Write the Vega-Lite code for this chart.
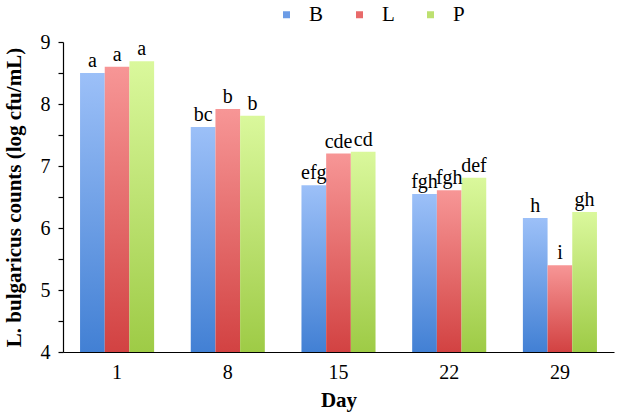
{
  "$schema": "https://vega.github.io/schema/vega-lite/v6.json",
  "width": 551,
  "height": 310,
  "autosize": "none",
  "padding": {"left": 63, "top": 42, "right": 3, "bottom": 62},
  "background": "white",
  "config": {
    "font": "Liberation Serif",
    "view": {"stroke": null},
    "axis": {"grid": false, "domainColor": "black", "tickColor": "black", "labelColor": "black", "titleColor": "black", "labelFont": "Liberation Serif", "titleFont": "Liberation Serif", "labelFontSize": 20, "titleFontSize": 21, "titleFontWeight": "bold", "domainWidth": 1.2, "tickWidth": 1.2}
  },
  "data": {
    "values": [
      {"day": 1, "group": "B", "value": 8.5, "label": "a"},
      {"day": 1, "group": "L", "value": 8.6, "label": "a"},
      {"day": 1, "group": "P", "value": 8.69, "label": "a"},
      {"day": 8, "group": "B", "value": 7.63, "label": "bc"},
      {"day": 8, "group": "L", "value": 7.92, "label": "b"},
      {"day": 8, "group": "P", "value": 7.81, "label": "b"},
      {"day": 15, "group": "B", "value": 6.69, "label": "efg"},
      {"day": 15, "group": "L", "value": 7.2, "label": "cde"},
      {"day": 15, "group": "P", "value": 7.23, "label": "cd"},
      {"day": 22, "group": "B", "value": 6.55, "label": "fgh"},
      {"day": 22, "group": "L", "value": 6.61, "label": "fgh"},
      {"day": 22, "group": "P", "value": 6.81, "label": "def"},
      {"day": 29, "group": "B", "value": 6.16, "label": "h"},
      {"day": 29, "group": "L", "value": 5.4, "label": "i"},
      {"day": 29, "group": "P", "value": 6.26, "label": "gh"}
    ]
  },
  "encoding": {
    "x": {
      "field": "day", "type": "ordinal", "sort": [1, 8, 15, 22, 29],
      "scale": {"paddingInner": 0.331, "paddingOuter": 0.154},
      "axis": {"title": "Day", "labelAngle": 0, "ticks": false, "labelPadding": 10, "titlePadding": 7}
    },
    "xOffset": {"field": "group", "type": "nominal", "scale": {"domain": ["B", "L", "P"], "paddingInner": 0, "paddingOuter": 0}},
    "y": {
      "field": "value", "type": "quantitative",
      "scale": {"domain": [4, 9], "zero": false, "nice": false},
      "axis": {
        "title": "L. bulgaricus counts (log cfu/mL)",
        "values": [4, 4.5, 5, 5.5, 6, 6.5, 7, 7.5, 8, 8.5, 9],
        "labelExpr": "datum.value % 1 === 0 ? format(datum.value, 'd') : ''",
        "tickSize": 5, "labelPadding": 8, "titlePadding": 16
      }
    }
  },
  "layer": [
    {
      "mark": {"type": "bar"},
      "encoding": {
        "y2": {"datum": 4},
        "fill": {
          "condition": [
            {"test": "datum.group === 'B'", "value": {"gradient": "linear", "x1": 0, "y1": 0, "x2": 0, "y2": 1, "stops": [{"offset": 0, "color": "#9cc0f8"}, {"offset": 1, "color": "#4280d4"}]}},
            {"test": "datum.group === 'L'", "value": {"gradient": "linear", "x1": 0, "y1": 0, "x2": 0, "y2": 1, "stops": [{"offset": 0, "color": "#f79696"}, {"offset": 1, "color": "#d24242"}]}}
          ],
          "value": {"gradient": "linear", "x1": 0, "y1": 0, "x2": 0, "y2": 1, "stops": [{"offset": 0, "color": "#daf89c"}, {"offset": 1, "color": "#9ecb46"}]}
        }
      }
    },
    {
      "mark": {"type": "square", "opacity": 0, "size": 1},
      "encoding": {
        "color": {
          "field": "group", "type": "nominal",
          "scale": {"domain": ["B", "L", "P"], "range": ["#6c9ce6", "#e86a6a", "#bde070"]},
          "legend": {
            "title": null, "orient": "none", "direction": "horizontal",
            "legendX": 213, "legendY": -38, "padding": 0,
            "symbolType": "square", "symbolSize": 49, "symbolStrokeWidth": 0, "symbolOpacity": 1,
            "labelFont": "Liberation Serif", "labelFontSize": 21, "labelColor": "black",
            "labelOffset": 12, "columnPadding": 25
          }
        }
      }
    },
    {
      "mark": {"type": "text", "baseline": "alphabetic", "dy": -6, "font": "Liberation Serif", "fontSize": 20, "color": "black"},
      "encoding": {"text": {"field": "label"}}
    }
  ]
}
